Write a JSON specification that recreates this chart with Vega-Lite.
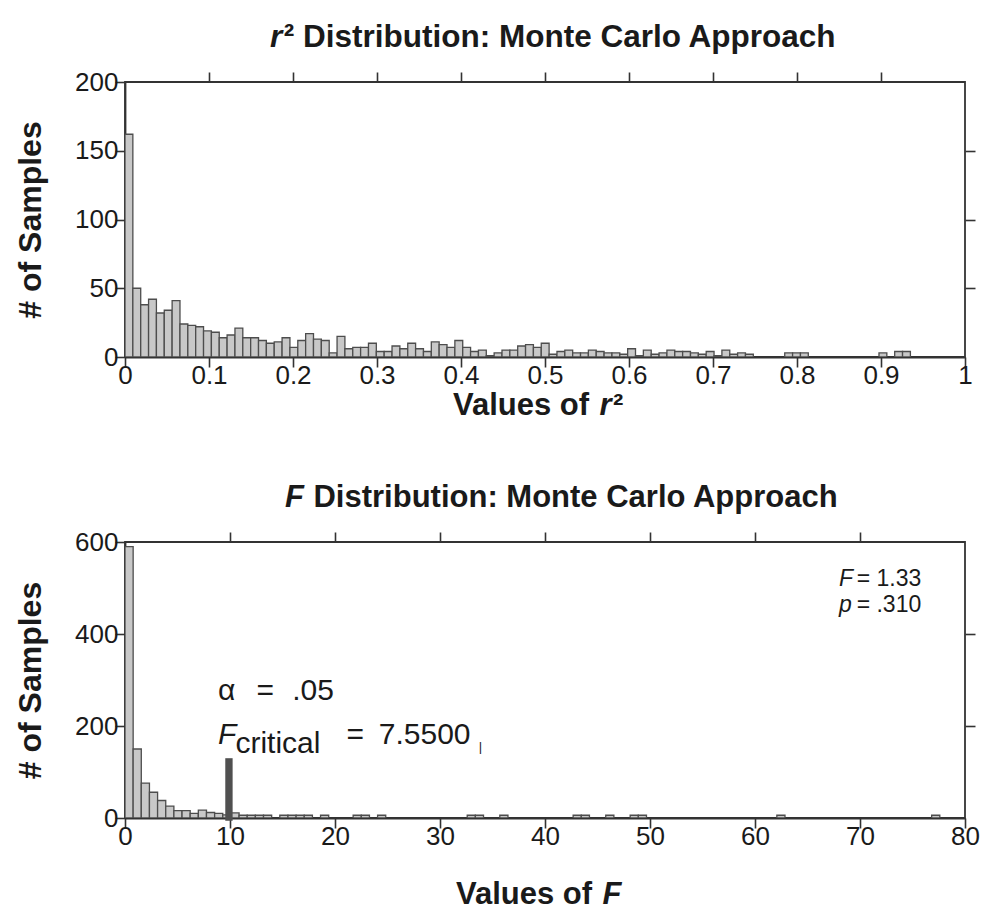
{
  "$schema": "https://vega.github.io/schema/vega-lite/v6.json",
  "background": "white",
  "padding": {"left": 13, "top": 21, "right": 5, "bottom": 5},
  "config": {
    "font": "Liberation Sans",
    "view": {"stroke": "#333333", "strokeWidth": 1.8},
    "axis": {"domain": true, "domainColor": "#333333", "domainWidth": 1.8, "tickColor": "#333333", "tickWidth": 1.6, "tickSize": 10, "grid": false, "labelFont": "Liberation Sans", "labelFontSize": 26, "labelColor": "#1a1a1a", "titleFont": "Liberation Sans", "titleFontSize": 32, "titleFontWeight": "bold", "titleColor": "#1a1a1a", "labelFlush": false, "labelOverlap": false},
    "axisX": {"labelPadding": -5},
    "axisY": {"labelPadding": -3, "titlePadding": 27},
    "text": {"font": "Liberation Sans", "color": "#1a1a1a", "align": "left", "baseline": "alphabetic"}
  },
  "datasets": {
    "one": [{}],
    "r2": [
      {"start": 0, "end": 0.00935, "count": 162},
      {"start": 0.00935, "end": 0.0187, "count": 50},
      {"start": 0.0187, "end": 0.02805, "count": 38},
      {"start": 0.02805, "end": 0.0374, "count": 42},
      {"start": 0.0374, "end": 0.04675, "count": 32},
      {"start": 0.04675, "end": 0.0561, "count": 34},
      {"start": 0.0561, "end": 0.06545, "count": 41},
      {"start": 0.06545, "end": 0.0748, "count": 24},
      {"start": 0.0748, "end": 0.08415, "count": 23},
      {"start": 0.08415, "end": 0.0935, "count": 22},
      {"start": 0.0935, "end": 0.10285, "count": 19},
      {"start": 0.10285, "end": 0.1122, "count": 18},
      {"start": 0.1122, "end": 0.12155, "count": 14},
      {"start": 0.12155, "end": 0.1309, "count": 16},
      {"start": 0.1309, "end": 0.14025, "count": 21},
      {"start": 0.14025, "end": 0.1496, "count": 14},
      {"start": 0.1496, "end": 0.15895, "count": 14},
      {"start": 0.15895, "end": 0.1683, "count": 12},
      {"start": 0.1683, "end": 0.17765, "count": 10},
      {"start": 0.17765, "end": 0.187, "count": 11},
      {"start": 0.187, "end": 0.19635, "count": 14},
      {"start": 0.19635, "end": 0.2057, "count": 7},
      {"start": 0.2057, "end": 0.21505, "count": 12},
      {"start": 0.21505, "end": 0.2244, "count": 17},
      {"start": 0.2244, "end": 0.23375, "count": 13},
      {"start": 0.23375, "end": 0.2431, "count": 12},
      {"start": 0.2431, "end": 0.25245, "count": 3},
      {"start": 0.25245, "end": 0.2618, "count": 15},
      {"start": 0.2618, "end": 0.27115, "count": 6},
      {"start": 0.27115, "end": 0.2805, "count": 7},
      {"start": 0.2805, "end": 0.28985, "count": 7},
      {"start": 0.28985, "end": 0.2992, "count": 10},
      {"start": 0.2992, "end": 0.30855, "count": 4},
      {"start": 0.30855, "end": 0.3179, "count": 4},
      {"start": 0.3179, "end": 0.32725, "count": 8},
      {"start": 0.32725, "end": 0.3366, "count": 6},
      {"start": 0.3366, "end": 0.34595, "count": 10},
      {"start": 0.34595, "end": 0.3553, "count": 6},
      {"start": 0.3553, "end": 0.36465, "count": 4},
      {"start": 0.36465, "end": 0.374, "count": 11},
      {"start": 0.374, "end": 0.38335, "count": 9},
      {"start": 0.38335, "end": 0.3927, "count": 7},
      {"start": 0.3927, "end": 0.40205, "count": 12},
      {"start": 0.40205, "end": 0.4114, "count": 7},
      {"start": 0.4114, "end": 0.42075, "count": 4},
      {"start": 0.42075, "end": 0.4301, "count": 5},
      {"start": 0.4301, "end": 0.43945, "count": 1},
      {"start": 0.43945, "end": 0.4488, "count": 3},
      {"start": 0.4488, "end": 0.45815, "count": 5},
      {"start": 0.45815, "end": 0.4675, "count": 5},
      {"start": 0.4675, "end": 0.47685, "count": 8},
      {"start": 0.47685, "end": 0.4862, "count": 9},
      {"start": 0.4862, "end": 0.49555, "count": 7},
      {"start": 0.49555, "end": 0.5049, "count": 10},
      {"start": 0.5049, "end": 0.51425, "count": 2},
      {"start": 0.51425, "end": 0.5236, "count": 4},
      {"start": 0.5236, "end": 0.53295, "count": 5},
      {"start": 0.53295, "end": 0.5423, "count": 3},
      {"start": 0.5423, "end": 0.55165, "count": 3},
      {"start": 0.55165, "end": 0.561, "count": 5},
      {"start": 0.561, "end": 0.57035, "count": 4},
      {"start": 0.57035, "end": 0.5797, "count": 3},
      {"start": 0.5797, "end": 0.58905, "count": 3},
      {"start": 0.58905, "end": 0.5984, "count": 2},
      {"start": 0.5984, "end": 0.60775, "count": 6},
      {"start": 0.60775, "end": 0.6171, "count": 1},
      {"start": 0.6171, "end": 0.62645, "count": 5},
      {"start": 0.62645, "end": 0.6358, "count": 2},
      {"start": 0.6358, "end": 0.64515, "count": 3},
      {"start": 0.64515, "end": 0.6545, "count": 5},
      {"start": 0.6545, "end": 0.66385, "count": 4},
      {"start": 0.66385, "end": 0.6732, "count": 4},
      {"start": 0.6732, "end": 0.68255, "count": 3},
      {"start": 0.68255, "end": 0.6919, "count": 2},
      {"start": 0.6919, "end": 0.70125, "count": 4},
      {"start": 0.70125, "end": 0.7106, "count": 1},
      {"start": 0.7106, "end": 0.71995, "count": 5},
      {"start": 0.71995, "end": 0.7293, "count": 2},
      {"start": 0.7293, "end": 0.73865, "count": 3},
      {"start": 0.73865, "end": 0.748, "count": 2},
      {"start": 0.7854, "end": 0.79475, "count": 3},
      {"start": 0.79475, "end": 0.8041, "count": 3},
      {"start": 0.8041, "end": 0.81345, "count": 3},
      {"start": 0.8976, "end": 0.90695, "count": 3},
      {"start": 0.9163, "end": 0.92565, "count": 4},
      {"start": 0.92565, "end": 0.935, "count": 4}
    ],
    "f": [
      {"start": 0, "end": 0.776, "count": 590},
      {"start": 0.776, "end": 1.552, "count": 150},
      {"start": 1.552, "end": 2.328, "count": 76},
      {"start": 2.328, "end": 3.104, "count": 56},
      {"start": 3.104, "end": 3.88, "count": 38},
      {"start": 3.88, "end": 4.656, "count": 26},
      {"start": 4.656, "end": 5.432, "count": 16},
      {"start": 5.432, "end": 6.208, "count": 16},
      {"start": 6.208, "end": 6.984, "count": 10},
      {"start": 6.984, "end": 7.76, "count": 17},
      {"start": 7.76, "end": 8.536, "count": 12},
      {"start": 8.536, "end": 9.312, "count": 10},
      {"start": 9.312, "end": 10.088, "count": 7},
      {"start": 10.088, "end": 10.864, "count": 11},
      {"start": 10.864, "end": 11.64, "count": 6},
      {"start": 11.64, "end": 12.416, "count": 6},
      {"start": 12.416, "end": 13.192, "count": 6},
      {"start": 13.192, "end": 13.968, "count": 6},
      {"start": 14.744, "end": 15.52, "count": 6},
      {"start": 15.52, "end": 16.296, "count": 6},
      {"start": 16.296, "end": 17.072, "count": 6},
      {"start": 17.072, "end": 17.848, "count": 6},
      {"start": 18.624, "end": 19.4, "count": 6},
      {"start": 21.728, "end": 22.504, "count": 6},
      {"start": 22.504, "end": 23.28, "count": 6},
      {"start": 24.056, "end": 24.832, "count": 6},
      {"start": 32.592, "end": 33.368, "count": 6},
      {"start": 33.368, "end": 34.144, "count": 6},
      {"start": 35.696, "end": 36.472, "count": 6},
      {"start": 42.68, "end": 43.456, "count": 6},
      {"start": 43.456, "end": 44.232, "count": 6},
      {"start": 45.784, "end": 46.56, "count": 6},
      {"start": 48.112, "end": 48.888, "count": 6},
      {"start": 48.888, "end": 49.664, "count": 6},
      {"start": 62.08, "end": 62.856, "count": 6},
      {"start": 76.824, "end": 77.6, "count": 6}
    ]
  },
  "vconcat": [
    {
      "width": 840,
      "height": 275,
      "layer": [
        {
          "data": {"name": "r2"},
          "mark": {"type": "bar", "fill": "#c8c8c8", "stroke": "#4d4d4d", "strokeWidth": 1.3, "clip": true},
          "encoding": {
            "x": {"field": "start", "type": "quantitative", "scale": {"domain": [0, 1], "nice": false, "zero": false},
                  "axis": {"orient": "bottom", "values": [0, 0.1, 0.2, 0.3, 0.4, 0.5, 0.6, 0.7, 0.8, 0.9, 1], "format": "~g", "title": null}},
            "x2": {"field": "end"},
            "y": {"field": "count", "type": "quantitative", "scale": {"domain": [0, 200], "nice": false},
                  "axis": {"orient": "left", "values": [0, 50, 100, 150, 200], "title": "# of Samples"}},
            "y2": {"datum": 0}
          }
        },
        {
          "data": {"name": "one"},
          "mark": {"type": "point", "opacity": 0},
          "encoding": {
            "x": {"datum": 0.5, "type": "quantitative", "axis": {"orient": "top", "values": [0.1, 0.2, 0.3, 0.4, 0.5, 0.6, 0.7, 0.8, 0.9], "labels": false, "domain": false, "title": null}},
            "y": {"datum": 100, "type": "quantitative", "axis": {"orient": "right", "values": [50, 100, 150], "labels": false, "domain": false, "title": null}}
          }
        },
        {
          "data": {"name": "one"},
          "mark": {"type": "text", "text": "r", "fontSize": 31.5, "fontWeight": "bold", "fontStyle": "italic"},
          "encoding": {"x": {"datum": 0.1726, "type": "quantitative", "axis": null}, "y": {"datum": 225.5, "type": "quantitative", "axis": null}}
        },
        {
          "data": {"name": "one"},
          "mark": {"type": "text", "text": "² Distribution: Monte Carlo Approach", "fontSize": 31.5, "fontWeight": "bold"},
          "encoding": {"x": {"datum": 0.189, "type": "quantitative", "axis": null}, "y": {"datum": 225.5, "type": "quantitative", "axis": null}}
        },
        {
          "data": {"name": "one"},
          "mark": {"type": "text", "text": "Values of", "fontSize": 31, "fontWeight": "bold"},
          "encoding": {"x": {"datum": 0.3905, "type": "quantitative", "axis": null}, "y": {"datum": -42, "type": "quantitative", "axis": null}}
        },
        {
          "data": {"name": "one"},
          "mark": {"type": "text", "text": "r", "fontSize": 31, "fontWeight": "bold", "fontStyle": "italic"},
          "encoding": {"x": {"datum": 0.5648, "type": "quantitative", "axis": null}, "y": {"datum": -42, "type": "quantitative", "axis": null}}
        },
        {
          "data": {"name": "one"},
          "mark": {"type": "text", "text": "²", "fontSize": 31, "fontWeight": "bold"},
          "encoding": {"x": {"datum": 0.581, "type": "quantitative", "axis": null}, "y": {"datum": -42, "type": "quantitative", "axis": null}}
        }
      ],
      "resolve": {"axis": {"x": "independent", "y": "independent"}}
    },
    {
      "width": 840,
      "height": 276,
      "layer": [
        {
          "data": {"name": "f"},
          "mark": {"type": "bar", "fill": "#c8c8c8", "stroke": "#4d4d4d", "strokeWidth": 1.3, "clip": true},
          "encoding": {
            "x": {"field": "start", "type": "quantitative", "scale": {"domain": [0, 80], "nice": false, "zero": false},
                  "axis": {"orient": "bottom", "values": [0, 10, 20, 30, 40, 50, 60, 70, 80], "title": null}},
            "x2": {"field": "end"},
            "y": {"field": "count", "type": "quantitative", "scale": {"domain": [0, 600], "nice": false},
                  "axis": {"orient": "left", "values": [0, 200, 400, 600], "title": "# of Samples"}},
            "y2": {"datum": 0}
          }
        },
        {
          "data": {"name": "one"},
          "mark": {"type": "bar", "fill": "#505050"},
          "encoding": {
            "x": {"datum": 9.55, "type": "quantitative", "axis": null},
            "x2": {"datum": 10.25},
            "y": {"datum": 130, "type": "quantitative", "axis": null},
            "y2": {"datum": -6}
          }
        },
        {
          "data": {"name": "one"},
          "mark": {"type": "point", "opacity": 0},
          "encoding": {
            "x": {"datum": 40, "type": "quantitative", "axis": {"orient": "top", "values": [10, 20, 30, 40, 50, 60, 70], "labels": false, "domain": false, "title": null}},
            "y": {"datum": 300, "type": "quantitative", "axis": {"orient": "right", "values": [200, 400], "labels": false, "domain": false, "title": null}}
          }
        },
        {
          "data": {"name": "one"},
          "mark": {"type": "text", "text": "F", "fontSize": 31, "fontWeight": "bold", "fontStyle": "italic"},
          "encoding": {"x": {"datum": 15.24, "type": "quantitative", "axis": null}, "y": {"datum": 676, "type": "quantitative", "axis": null}}
        },
        {
          "data": {"name": "one"},
          "mark": {"type": "text", "text": "Distribution: Monte Carlo Approach", "fontSize": 31, "fontWeight": "bold"},
          "encoding": {"x": {"datum": 17.95, "type": "quantitative", "axis": null}, "y": {"datum": 676, "type": "quantitative", "axis": null}}
        },
        {
          "data": {"name": "one"},
          "mark": {"type": "text", "text": "Values of", "fontSize": 31, "fontWeight": "bold"},
          "encoding": {"x": {"datum": 31.52, "type": "quantitative", "axis": null}, "y": {"datum": -187, "type": "quantitative", "axis": null}}
        },
        {
          "data": {"name": "one"},
          "mark": {"type": "text", "text": "F", "fontSize": 31, "fontWeight": "bold", "fontStyle": "italic"},
          "encoding": {"x": {"datum": 45.47, "type": "quantitative", "axis": null}, "y": {"datum": -187, "type": "quantitative", "axis": null}}
        },
        {
          "data": {"name": "one"},
          "mark": {"type": "text", "text": "α", "fontSize": 30},
          "encoding": {"x": {"datum": 8.86, "type": "quantitative", "axis": null}, "y": {"datum": 256.5, "type": "quantitative", "axis": null}}
        },
        {
          "data": {"name": "one"},
          "mark": {"type": "text", "text": "=", "fontSize": 30},
          "encoding": {"x": {"datum": 12.52, "type": "quantitative", "axis": null}, "y": {"datum": 256.5, "type": "quantitative", "axis": null}}
        },
        {
          "data": {"name": "one"},
          "mark": {"type": "text", "text": ".05", "fontSize": 30},
          "encoding": {"x": {"datum": 15.93, "type": "quantitative", "axis": null}, "y": {"datum": 256.5, "type": "quantitative", "axis": null}}
        },
        {
          "data": {"name": "one"},
          "mark": {"type": "text", "text": "F", "fontSize": 30, "fontStyle": "italic"},
          "encoding": {"x": {"datum": 8.86, "type": "quantitative", "axis": null}, "y": {"datum": 160.9, "type": "quantitative", "axis": null}}
        },
        {
          "data": {"name": "one"},
          "mark": {"type": "text", "text": "critical", "fontSize": 30},
          "encoding": {"x": {"datum": 10.52, "type": "quantitative", "axis": null}, "y": {"datum": 141.3, "type": "quantitative", "axis": null}}
        },
        {
          "data": {"name": "one"},
          "mark": {"type": "text", "text": "=", "fontSize": 30},
          "encoding": {"x": {"datum": 21.1, "type": "quantitative", "axis": null}, "y": {"datum": 160.9, "type": "quantitative", "axis": null}}
        },
        {
          "data": {"name": "one"},
          "mark": {"type": "text", "text": "7.5500", "fontSize": 30},
          "encoding": {"x": {"datum": 24.17, "type": "quantitative", "axis": null}, "y": {"datum": 160.9, "type": "quantitative", "axis": null}}
        },
        {
          "data": {"name": "one"},
          "mark": {"type": "text", "text": "|", "fontSize": 13, "color": "#222222"},
          "encoding": {"x": {"datum": 33.7, "type": "quantitative", "axis": null}, "y": {"datum": 145.7, "type": "quantitative", "axis": null}}
        },
        {
          "data": {"name": "one"},
          "mark": {"type": "text", "text": "F", "fontSize": 23, "fontStyle": "italic"},
          "encoding": {"x": {"datum": 68.0, "type": "quantitative", "axis": null}, "y": {"datum": 504.3, "type": "quantitative", "axis": null}}
        },
        {
          "data": {"name": "one"},
          "mark": {"type": "text", "text": "= 1.33", "fontSize": 23},
          "encoding": {"x": {"datum": 69.68, "type": "quantitative", "axis": null}, "y": {"datum": 504.3, "type": "quantitative", "axis": null}}
        },
        {
          "data": {"name": "one"},
          "mark": {"type": "text", "text": "p", "fontSize": 23, "fontStyle": "italic"},
          "encoding": {"x": {"datum": 68.0, "type": "quantitative", "axis": null}, "y": {"datum": 447.8, "type": "quantitative", "axis": null}}
        },
        {
          "data": {"name": "one"},
          "mark": {"type": "text", "text": "= .310", "fontSize": 23},
          "encoding": {"x": {"datum": 69.68, "type": "quantitative", "axis": null}, "y": {"datum": 447.8, "type": "quantitative", "axis": null}}
        }
      ],
      "resolve": {"axis": {"x": "independent", "y": "independent"}}
    }
  ],
  "spacing": 185,
  "bounds": "flush"
}
